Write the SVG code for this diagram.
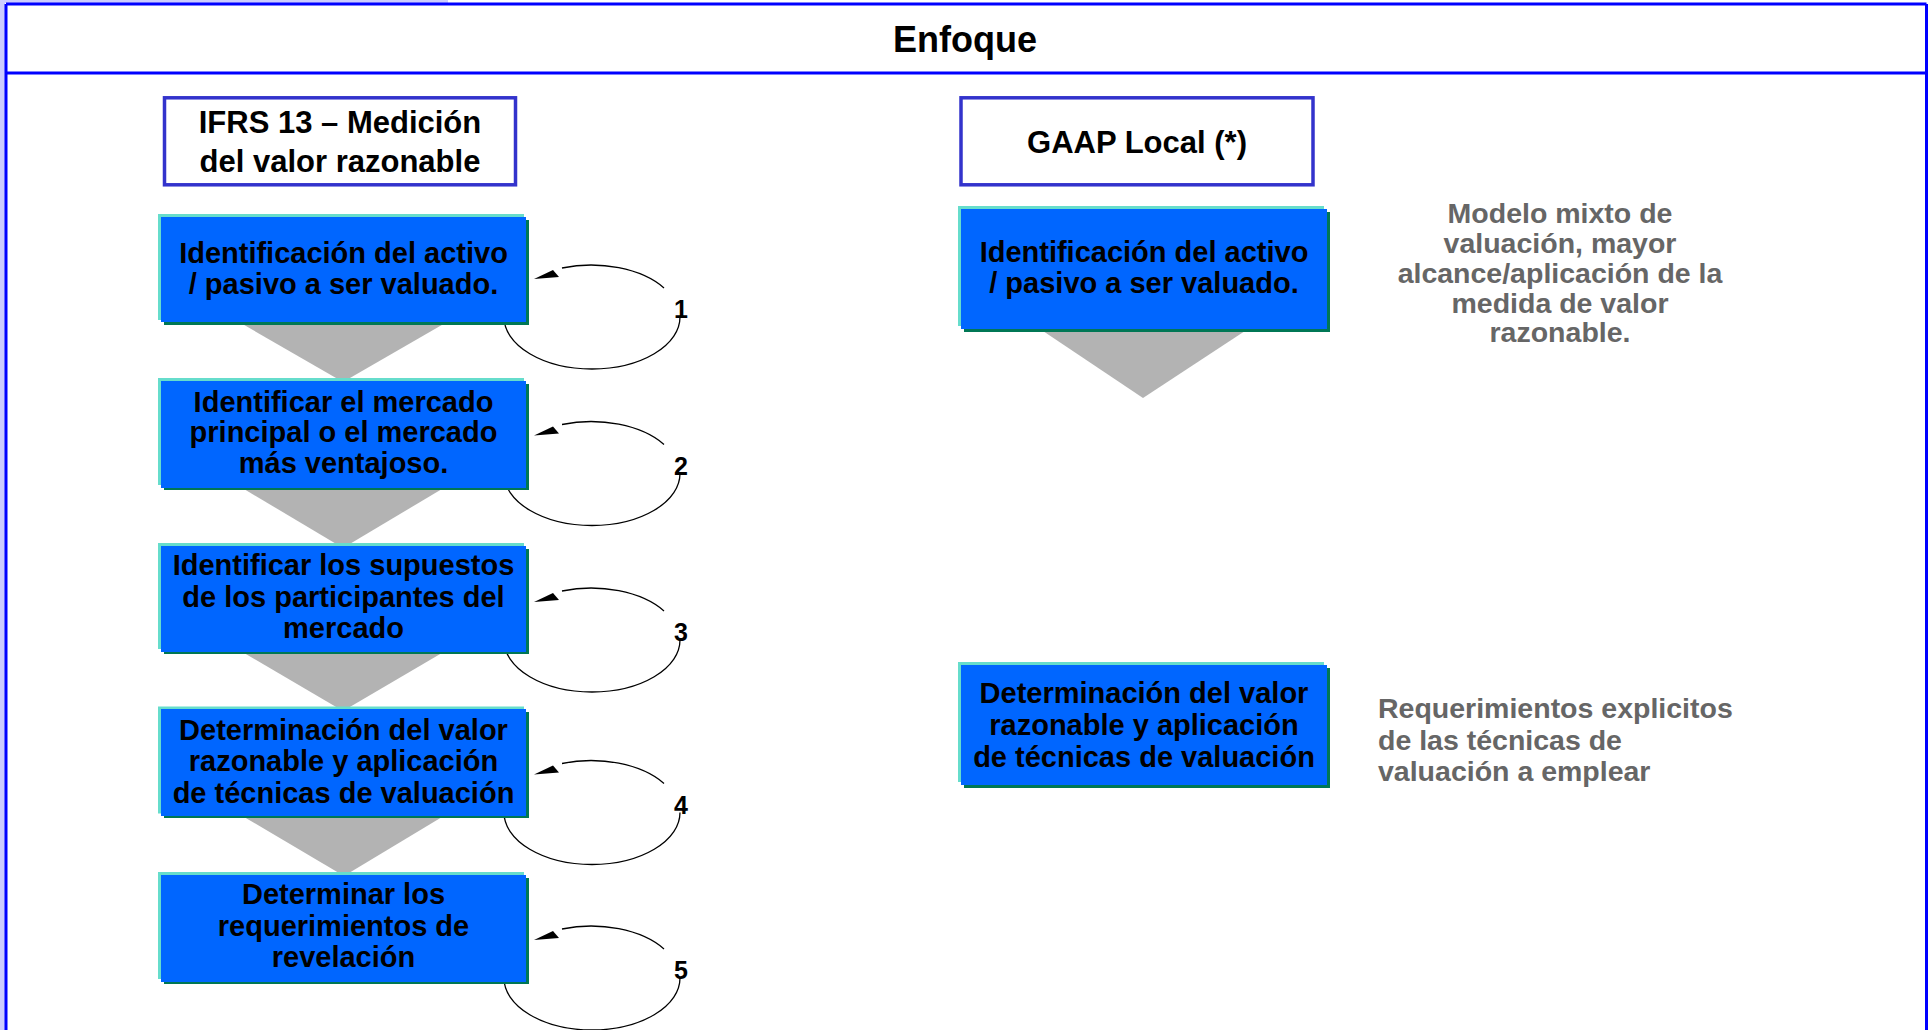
<svg xmlns="http://www.w3.org/2000/svg" width="1929" height="1030" viewBox="0 0 1929 1030">
<defs>
<style>
.t{font-family:"Liberation Sans",Arial,sans-serif;font-weight:bold;fill:#000;text-anchor:middle}
.bx{font-size:29px}
.hd{font-size:31px}
.g{font-family:"Liberation Sans",Arial,sans-serif;font-weight:bold;fill:#666;font-size:28.5px}
.frame{fill:none;stroke:#0000ff;stroke-width:3}
.hbox{fill:#fff;stroke:#3333cc;stroke-width:3.5}
.cy{fill:#66ddcc}
.gr{fill:#007755}
.bl{fill:#0066ff}
.chev{fill:#b3b3b3}
.loop{fill:none;stroke:#000;stroke-width:1.3}
.num{font-family:"Liberation Sans",Arial,sans-serif;font-weight:bold;font-size:25px;text-anchor:middle;fill:#000}
</style>
</defs>
<rect x="0" y="0" width="1929" height="1030" fill="#fff"/>
<rect x="0" y="0" width="448" height="3" fill="#ccccff"/>
<rect x="0" y="0" width="5" height="1030" fill="#ccccff"/>
<g id="frame">
<line class="frame" x1="6" y1="4" x2="1926.5" y2="4"/>
<line class="frame" x1="6" y1="73" x2="1926.5" y2="73"/>
<line class="frame" x1="6" y1="4" x2="6" y2="1030"/>
<line class="frame" x1="1926.5" y1="4" x2="1926.5" y2="1030"/>
<text class="t" x="965" y="52" font-size="36">Enfoque</text>
</g>
<g id="chevrons">
<polygon class="chev" points="239,322 447,322 343,382"/>
<polygon class="chev" points="239,486 447,486 343,548"/>
<polygon class="chev" points="239,650 447,650 343,711"/>
<polygon class="chev" points="239,814 447,814 344,876"/>
<polygon class="chev" points="1040,329 1248,329 1143,398"/>
</g>
<g id="connectors">
<g>
<path class="loop" d="M504 317 A88 52 0 0 0 680 317"/>
<path class="loop" d="M664 288 A88 52 0 0 0 562 268"/>
<polygon points="534,279 553,270 559,277" fill="#000"/>
<text class="num" x="681" y="318">1</text>
</g>
<g>
<path class="loop" d="M504 473.5 A88 52 0 0 0 680 473.5"/>
<path class="loop" d="M664 444.5 A88 52 0 0 0 562 424.5"/>
<polygon points="534,435.5 553,426.5 559,433.5" fill="#000"/>
<text class="num" x="681" y="474.5">2</text>
</g>
<g>
<path class="loop" d="M504 640 A88 52 0 0 0 680 640"/>
<path class="loop" d="M664 611 A88 52 0 0 0 562 591"/>
<polygon points="534,602 553,593 559,600" fill="#000"/>
<text class="num" x="681" y="641">3</text>
</g>
<g>
<path class="loop" d="M504 812.5 A88 52 0 0 0 680 812.5"/>
<path class="loop" d="M664 783.5 A88 52 0 0 0 562 763.5"/>
<polygon points="534,774.5 553,765.5 559,772.5" fill="#000"/>
<text class="num" x="681" y="813.5">4</text>
</g>
<g>
<path class="loop" d="M504 978 A88 52 0 0 0 680 978"/>
<path class="loop" d="M664 949 A88 52 0 0 0 562 929"/>
<polygon points="534,940 553,931 559,938" fill="#000"/>
<text class="num" x="681" y="979">5</text>
</g>
</g>
<g id="hdr-ifrs">
<rect class="hbox" x="164.5" y="97.8" width="351" height="87"/>
<text class="t hd" x="340" y="133">IFRS 13 – Medición</text>
<text class="t hd" x="340" y="171.5">del valor razonable</text>
</g>
<g id="hdr-gaap">
<rect class="hbox" x="961" y="97.8" width="352" height="87"/>
<text class="t hd" x="1137" y="153">GAAP Local (*)</text>
</g>
<g id="l1">
<rect class="cy" x="158" y="214" width="366" height="106"/>
<rect class="gr" x="164" y="220" width="365" height="105"/>
<rect class="bl" x="161" y="217" width="365" height="105"/>
<text class="t bx" x="343.5" y="263">Identificación del activo</text>
<text class="t bx" x="343.5" y="294">/ pasivo a ser valuado.</text>
</g>
<g id="l2">
<rect class="cy" x="158" y="378" width="366" height="107"/>
<rect class="gr" x="164" y="384" width="365" height="106"/>
<rect class="bl" x="161" y="381" width="365" height="107"/>
<text class="t bx" x="343.5" y="411.5">Identificar el mercado</text>
<text class="t bx" x="343.5" y="442">principal o el mercado</text>
<text class="t bx" x="343.5" y="473">más ventajoso.</text>
</g>
<g id="l3">
<rect class="cy" x="158" y="543" width="366" height="106"/>
<rect class="gr" x="164" y="549" width="365" height="105"/>
<rect class="bl" x="161" y="546" width="365" height="106"/>
<text class="t bx" x="343.5" y="575">Identificar los supuestos</text>
<text class="t bx" x="343.5" y="606.5">de los participantes del</text>
<text class="t bx" x="343.5" y="637.5">mercado</text>
</g>
<g id="l4">
<rect class="cy" x="158" y="706.5" width="366" height="107"/>
<rect class="gr" x="164" y="712" width="365" height="106"/>
<rect class="bl" x="161" y="709" width="365" height="107"/>
<text class="t bx" x="343.5" y="739.5">Determinación del valor</text>
<text class="t bx" x="343.5" y="771">razonable y aplicación</text>
<text class="t bx" x="343.5" y="802.5">de técnicas de valuación</text>
</g>
<g id="l5">
<rect class="cy" x="158" y="872" width="366" height="107"/>
<rect class="gr" x="164" y="878" width="365" height="106"/>
<rect class="bl" x="161" y="875" width="365" height="107"/>
<text class="t bx" x="343.5" y="904">Determinar los</text>
<text class="t bx" x="343.5" y="936">requerimientos de</text>
<text class="t bx" x="343.5" y="967">revelación</text>
</g>
<g id="r1">
<rect class="cy" x="958" y="206" width="366" height="120"/>
<rect class="gr" x="964" y="212" width="366" height="120"/>
<rect class="bl" x="961" y="209" width="366" height="120"/>
<text class="t bx" x="1144" y="261.5">Identificación del activo</text>
<text class="t bx" x="1144" y="293">/ pasivo a ser valuado.</text>
</g>
<g id="r2">
<rect class="cy" x="958" y="662" width="366" height="120"/>
<rect class="gr" x="964" y="668" width="366" height="120"/>
<rect class="bl" x="961" y="665" width="366" height="120"/>
<text class="t bx" x="1144" y="703">Determinación del valor</text>
<text class="t bx" x="1144" y="735">razonable y aplicación</text>
<text class="t bx" x="1144" y="766.5">de técnicas de valuación</text>
</g>
<g id="note-modelo">
<text class="g" text-anchor="middle" x="1560" y="223">Modelo mixto de</text>
<text class="g" text-anchor="middle" x="1560" y="253">valuación, mayor</text>
<text class="g" text-anchor="middle" x="1560" y="283">alcance/aplicación de la</text>
<text class="g" text-anchor="middle" x="1560" y="312.5">medida de valor</text>
<text class="g" text-anchor="middle" x="1560" y="342">razonable.</text>
</g>
<g id="note-req">
<text class="g" x="1378" y="718" font-size="29">Requerimientos explicitos</text>
<text class="g" x="1378" y="750" font-size="29">de las técnicas de</text>
<text class="g" x="1378" y="781" font-size="29">valuación a emplear</text>
</g>
</svg>
